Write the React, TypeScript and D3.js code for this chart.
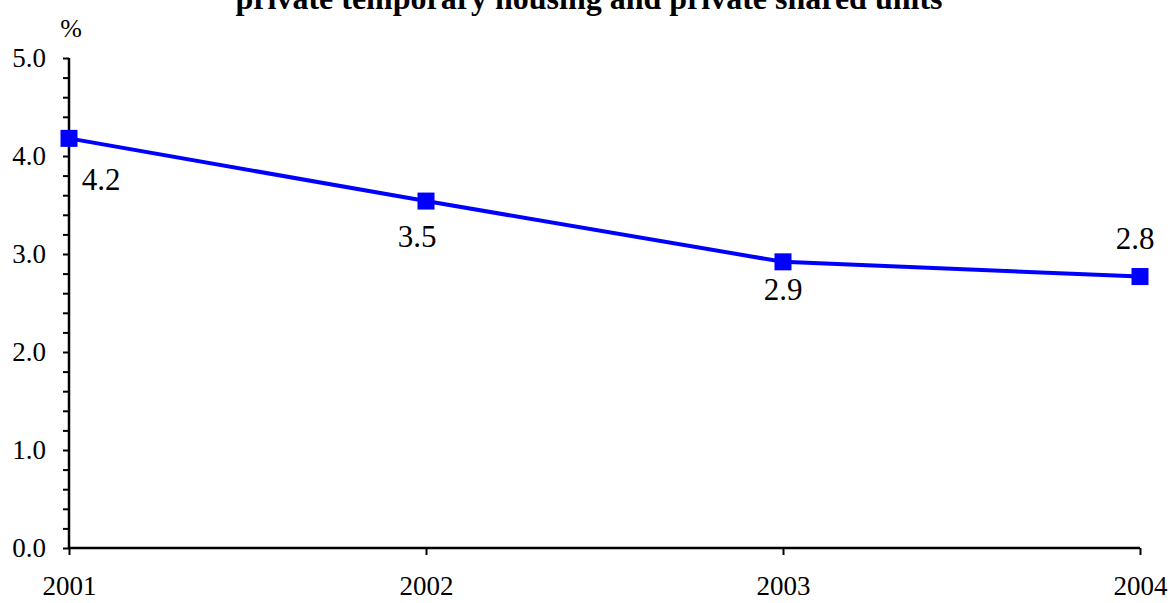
import React from 'react';
import { scaleLinear, scalePoint, select, line, axisLeft, axisBottom, range, format } from 'd3';

// values
const years = ['2001', '2002', '2003', '2004'];
const shares = [4.18, 3.54, 2.92, 2.77];
const yTicks = [0, 1, 2, 3, 4, 5];
const titleText = 'private temporary housing and private shared units';

// where each data label sits relative to its marker (dx, dy of baseline centre)
const labelDx = [32, -9, 0, -5];
const labelDy = [52, 46, 38, -28];

const dims = {
  width: 1172,
  height: 603,
  left: 69,
  right: 1140,
  top: 58,
  bottom: 548,
};

const FONT = "'Liberation Serif', 'Times New Roman', serif";

const App: React.FC = () => {
  const svgRef = React.useRef<SVGSVGElement>(null);

  React.useEffect(() => {
    const svg = select(svgRef.current);
    svg.selectAll('*').remove();

    const x = scalePoint<string>().domain(years).range([dims.left, dims.right]);
    const y = scaleLinear().domain([0, 5]).range([dims.bottom, dims.top]);

    // title (its first line is off the top of the picture)
    svg.append('text')
      .attr('x', 589)
      .attr('y', 9)
      .attr('text-anchor', 'middle')
      .style('font-family', FONT)
      .style('font-weight', 'bold')
      .style('font-size', '32px')
      .text(titleText);

    svg.append('text')
      .attr('x', 71)
      .attr('y', 37)
      .attr('text-anchor', 'middle')
      .style('font-family', FONT)
      .style('font-size', '26px')
      .text('%');

    // y axis, minor ticks every 0.2
    const yAxisG = svg.append('g')
      .attr('transform', `translate(${dims.left},0)`)
      .call(axisLeft(y).tickValues(range(0, 5.01, 0.2)).tickSize(6).tickFormat(() => ''));
    yAxisG.select('.domain').attr('stroke-width', 2.5).attr('d', `M0,${dims.top}V${dims.bottom}`);
    yAxisG.selectAll('.tick line').attr('stroke-width', 2);

    svg.append('g')
      .selectAll('text')
      .data(yTicks)
      .join('text')
      .attr('x', 46)
      .attr('y', d => y(d) + 9)
      .attr('text-anchor', 'end')
      .style('font-family', FONT)
      .style('font-size', '27px')
      .text(d => format('.1f')(d));

    const xAxisG = svg.append('g')
      .attr('transform', `translate(0,${dims.bottom})`)
      .call(axisBottom(x).tickSize(7));
    xAxisG.select('.domain').attr('stroke-width', 2.5).attr('d', `M${dims.left},0H${dims.right}`);
    xAxisG.selectAll('.tick line').attr('stroke-width', 2);
    xAxisG.selectAll('.tick text')
      .attr('y', 47)
      .attr('dy', null)
      .style('font-family', FONT)
      .style('font-size', '27px')
      .attr('fill', '#000');

    const pts = years.map((yr, i) => ({ yr, v: shares[i], dx: labelDx[i], dy: labelDy[i] }));

    const lineGen = line<{ yr: string; v: number }>()
      .x(d => x(d.yr) as number)
      .y(d => y(d.v));

    svg.append('path')
      .datum(pts)
      .attr('d', lineGen)
      .attr('fill', 'none')
      .attr('stroke', '#0000ff')
      .attr('stroke-width', 4);

    const sz = 17;
    svg.append('g')
      .selectAll('rect')
      .data(pts)
      .join('rect')
      .attr('x', d => (x(d.yr) as number) - sz / 2)
      .attr('y', d => y(d.v) - sz / 2)
      .attr('width', sz)
      .attr('height', sz)
      .attr('fill', '#0000ff');

    svg.append('g')
      .selectAll('text')
      .data(pts)
      .join('text')
      .attr('x', d => (x(d.yr) as number) + d.dx)
      .attr('y', d => y(d.v) + d.dy)
      .attr('text-anchor', 'middle')
      .style('font-family', FONT)
      .style('font-size', '31px')
      .text(d => format('.1f')(d.v));
  }, []);

  return (
    <svg
      ref={svgRef}
      width={dims.width}
      height={dims.height}
      style={{ position: 'absolute', left: 0, top: 0, background: '#fff' }}
    />
  );
};

export default App;
